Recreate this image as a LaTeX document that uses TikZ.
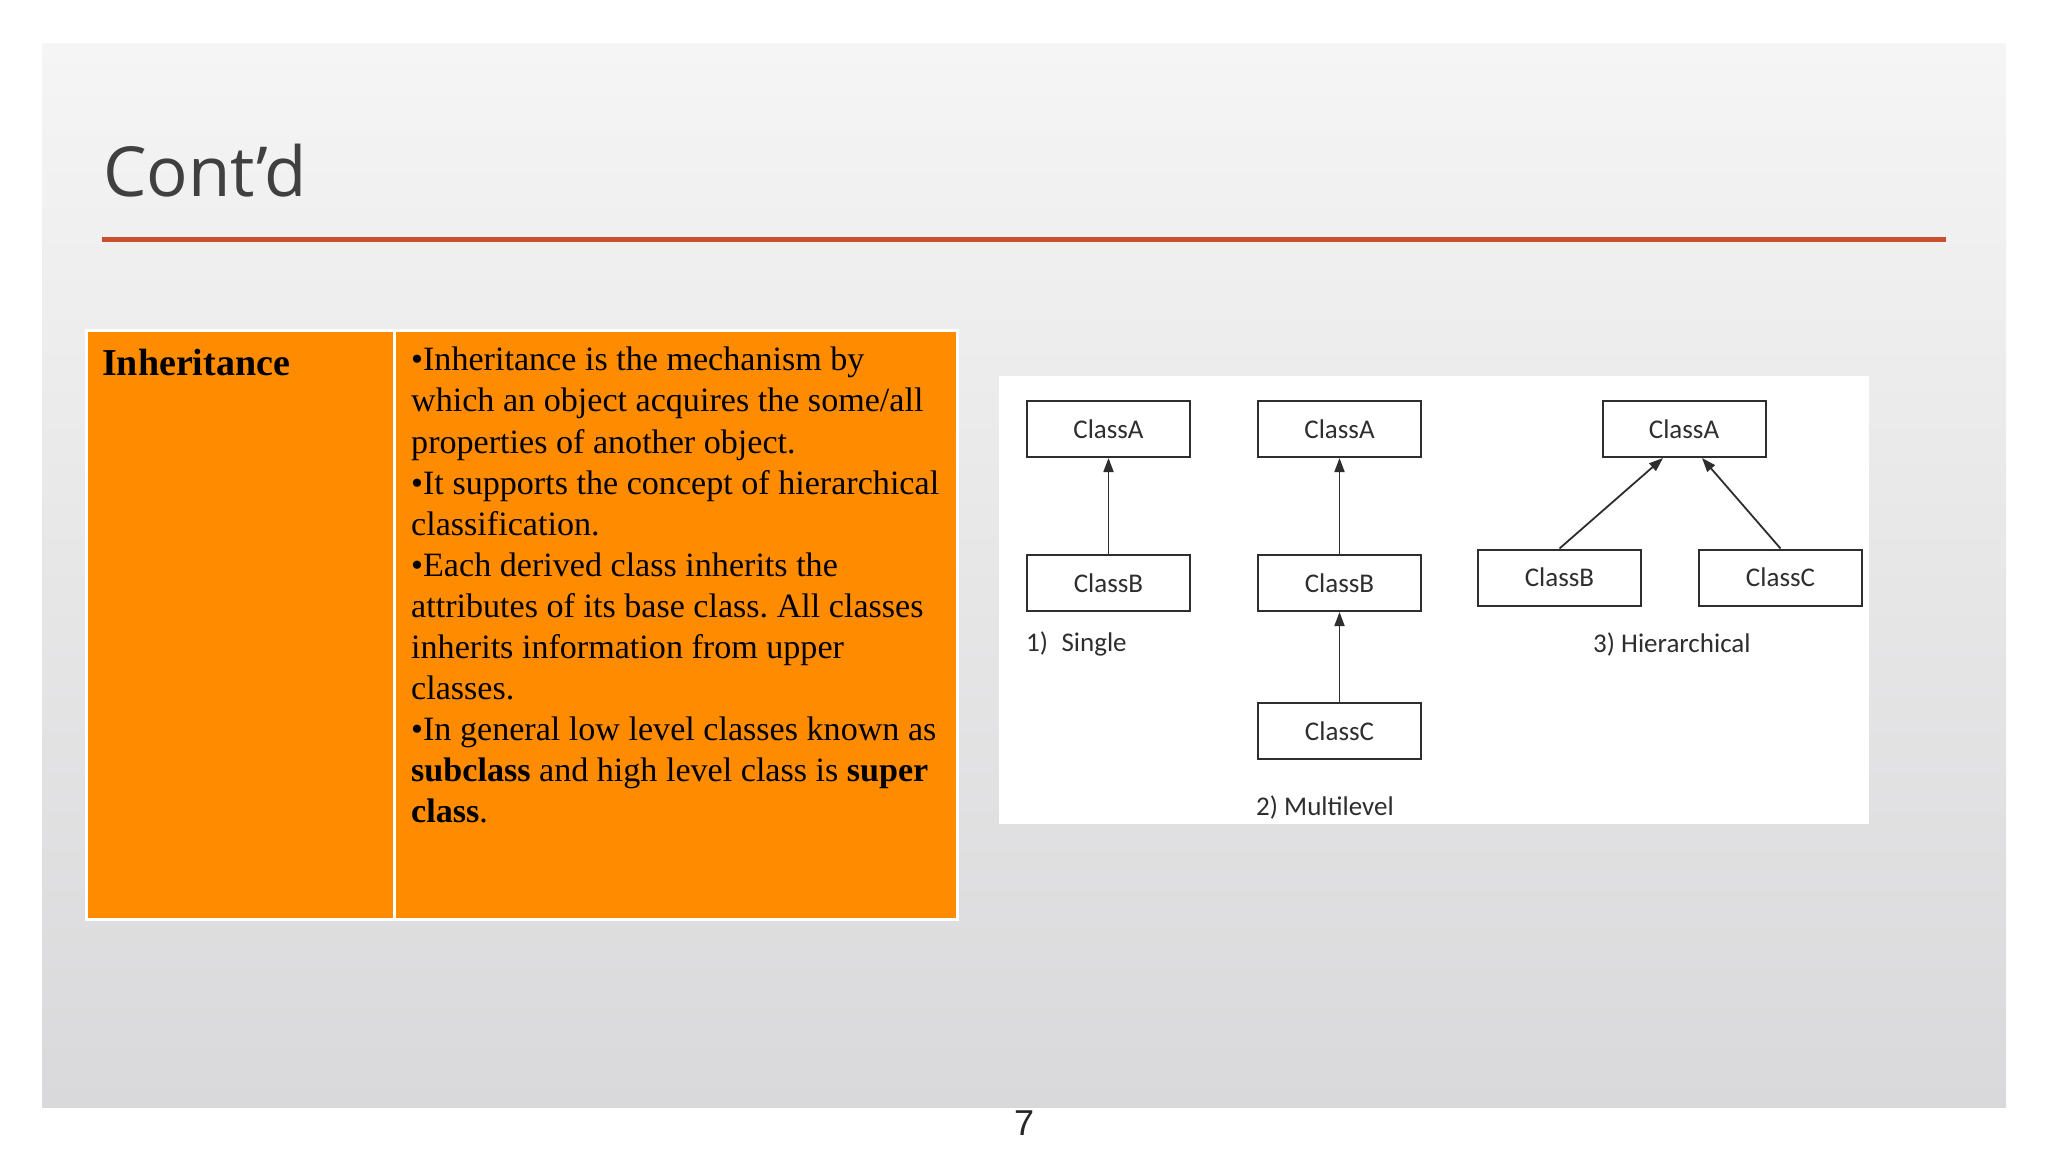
\documentclass[tikz,border=0pt]{standalone}
\usepackage{fontspec}
\setmainfont{Liberation Serif}
\newfontfamily\titlefont{Open Sans}
\newfontfamily\diagfont{Carlito}
\newfontfamily\numfont{Liberation Sans}
\usetikzlibrary{arrows.meta,positioning}
\definecolor{slideTop}{HTML}{F5F5F5}
\definecolor{slideBot}{HTML}{D9D8DA}
\definecolor{titleGray}{HTML}{404040}
\definecolor{accentRed}{HTML}{C9502C}
\definecolor{tableOrange}{HTML}{FF8C00}
\definecolor{boxInk}{HTML}{2E2E2E}
\definecolor{pageInk}{HTML}{262626}
\frenchspacing

\begin{document}
\begin{tikzpicture}[x=1pt,y=-1pt,
  cls/.style={draw=boxInk,line width=2pt,minimum width=163pt,minimum height=56pt,inner sep=0pt,font=\diagfont\fontsize{27}{30}\selectfont,text=boxInk},
  inh/.style={-{Triangle[length=14pt,width=10pt]},line width=1.8pt,color=boxInk},
  lbl/.style={font=\diagfont\fontsize{27}{30}\selectfont,text=boxInk,inner sep=0pt,anchor=west}
]
  \useasboundingbox (0,0) rectangle (2048,1152);
  \fill[white] (0,0) rectangle (2048,1152);
  \shade[top color=slideTop,bottom color=slideBot] (42,43) rectangle (2006,1107);

  % title
  \node[anchor=base west,inner sep=0pt,font=\titlefont\fontsize{69}{78}\selectfont,text=titleGray] (title) at (103,196) {Cont’d};
  \draw[accentRed,line width=5pt] (102,239) -- (1946,239);

  % table
  \fill[tableOrange] (86,330) rectangle (957,919);
  \draw[white,line width=3pt] (86,330) rectangle (957,919) (394,330) -- (394,919);
  \node[anchor=base west,inner sep=0pt,font=\bfseries\fontsize{38}{42}\selectfont] (term) at (102,375) {Inheritance};
  \node[anchor=north west,inner sep=0pt,align=left,font=\fontsize{34.1}{41.1}\selectfont] (defn) at (411,347) {%
    •Inheritance is the mechanism by\\
    which an object acquires the some/all\\
    properties of another object.\\
    •It supports the concept of hierarchical\\
    classification.\\
    •Each derived class inherits the\\
    attributes of its base class. All classes\\
    inherits information from upper\\
    classes.\\
    •In general low level classes known as\\
    \textbf{subclass} and high level class is \textbf{super}\\
    \textbf{class}.};

  % inheritance types
  \fill[white] (999,376) rectangle (1869,824);
  \node[cls] (sA) at (1108.5,429) {ClassA};
  \node[cls,below=96pt of sA] (sB) {ClassB};
  \node[cls,right=66pt of sA] (mA) {ClassA};
  \node[cls,below=96pt of mA] (mB) {ClassB};
  \node[cls,below=90pt of mB] (mC) {ClassC};
  \node[cls] (hA) at (1684,429) {ClassA};
  \node[cls] (hB) at (1559.5,577.5) {ClassB};
  \node[cls,right=56pt of hB] (hC) {ClassC};
  \node[lbl] (sLbl) at (1026,644) {1)\enspace Single};
  \node[lbl] (mLbl) at (1256,807) {2) Multilevel};
  \node[lbl] (hLbl) at (1593,644) {3) Hierarchical};
  \draw[inh] (sB) -- (sA);
  \draw[inh] (mB) -- (mA);
  \draw[inh] (mC) -- (mB);
  \draw[inh] (hB.north) -- ([xshift=-21pt]hA.south);
  \draw[inh] (hC.north) -- ([xshift=18pt]hA.south);

  \node[font=\numfont\fontsize{36}{40}\selectfont,text=pageInk] (pgno) at (1024,1123) {7};
\end{tikzpicture}
\end{document}
